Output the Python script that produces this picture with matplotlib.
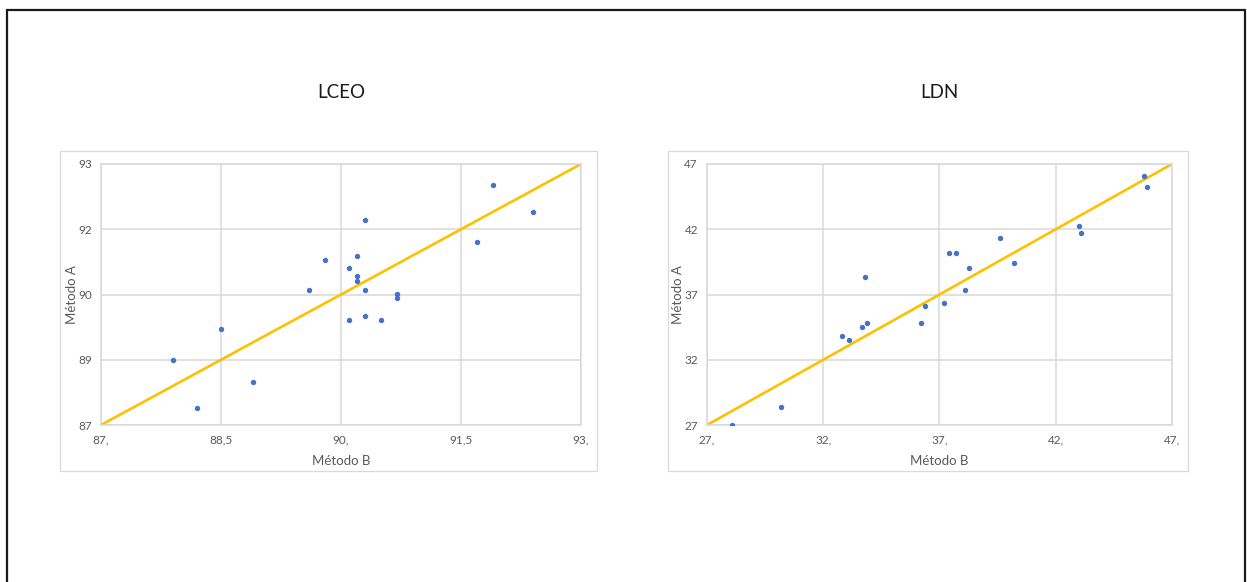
import matplotlib
matplotlib.use('Agg')
from matplotlib import pyplot as plt
from matplotlib.patches import Rectangle

# LCEO
lceo_b = [87.90, 88.20, 88.50, 88.90, 89.60, 89.80, 90.10, 90.10, 90.20, 90.20,
          90.20, 90.30, 90.30, 90.30, 90.50, 90.70, 90.70, 91.70, 91.90, 92.40]
lceo_a = [88.50, 87.40, 89.20, 88.00, 90.10, 90.80, 90.60, 89.41, 90.89, 90.42,
          90.30, 91.72, 90.10, 89.50, 89.41, 90.02, 89.91, 91.21, 92.52, 91.90]
lceo_xticks = [87, 88.5, 90, 91.5, 93]
lceo_xlabels = ['87,', '88,5', '90,', '91,5', '93,']
lceo_yticks = [87, 88.5, 90, 91.5, 93]
lceo_ylabels = ['87', '89', '90', '92', '93']

# LDN
ldn_b = [28.09, 30.18, 32.82, 33.10, 33.68, 33.80, 33.90, 36.22, 36.39, 37.18,
         37.41, 37.70, 38.10, 38.29, 39.60, 40.19, 43.00, 43.10, 45.80, 45.92]
ldn_a = [27.00, 28.41, 33.82, 33.51, 34.51, 38.33, 34.82, 34.82, 36.13, 36.38,
         40.21, 40.21, 37.33, 39.00, 41.31, 39.41, 42.23, 41.72, 46.10, 45.21]
ldn_xticks = [27, 32, 37, 42, 47]
ldn_xlabels = ['27,', '32,', '37,', '42,', '47,']
ldn_yticks = [27, 32, 37, 42, 47]
ldn_ylabels = ['27', '32', '37', '42', '47']

W, H = 1247, 582
plt.rcParams['font.family'] = ['Lato', 'DejaVu Sans']
fig = plt.figure(figsize=(W / 100, H / 100), dpi=100)

# outer black frame (bottom edge falls outside the picture)
fig.add_artist(Rectangle((7 / W, -0.1), (1245 - 7) / W, 1.1 - 10 / H,
                         transform=fig.transFigure, fill=False,
                         edgecolor='#1a1a1a', linewidth=1.6))

grey = '#d9d9d9'
txt = '#595959'


def chart(box, area, title, xs, ys, lim, xticks, xlabels, yticks, ylabels):
    bx0, by0, bx1, by1 = box
    fig.add_artist(Rectangle((bx0 / W, 1 - by1 / H), (bx1 - bx0) / W, (by1 - by0) / H,
                             transform=fig.transFigure, fill=False,
                             edgecolor=grey, linewidth=0.9))
    x0, y0, x1, y1 = area
    ax = fig.add_axes([x0 / W, 1 - y1 / H, (x1 - x0) / W, (y1 - y0) / H])
    ax.set_xlim(lim)
    ax.set_ylim(lim)
    ax.set_xticks(xticks)
    ax.set_xticklabels(xlabels)
    ax.set_yticks(yticks)
    ax.set_yticklabels(ylabels)
    ax.grid(True, color=grey, linewidth=1.1)
    ax.set_axisbelow(True)
    for s in ax.spines.values():
        s.set_color(grey)
        s.set_linewidth(1.1)
    ax.tick_params(length=0, labelsize=8.5, colors=txt)
    ax.tick_params(axis='x', pad=7)
    ax.tick_params(axis='y', pad=6.5)
    ax.plot(lim, lim, color='#FFC000', linewidth=1.9, zorder=2)
    ax.scatter(xs, ys, s=15, color='#4472C4', zorder=3, linewidths=0)
    ax.set_xlabel('Método B', fontsize=9.5, color=txt)
    ax.set_ylabel('Método A', fontsize=9.5, color=txt)
    ax.xaxis.set_label_coords(0.5, -(461 - y1) / (y1 - y0), transform=ax.transAxes)
    ax.yaxis.set_label_coords(-28.5 / (x1 - x0), 0.5, transform=ax.transAxes)
    ax.xaxis.label.set_va('center')
    ax.yaxis.label.set_va('center')
    fig.text((x0 + x1) / 2 / W, 1 - 93 / H, title, ha='center', va='center',
             fontsize=13.5, color='#1a1a1a')
    return ax


chart((60, 151, 597, 471), (101, 164, 581, 425), 'LCEO', lceo_b, lceo_a, (87, 93),
      lceo_xticks, lceo_xlabels, lceo_yticks, lceo_ylabels)
chart((668, 151, 1188, 471), (707, 164, 1172, 425), 'LDN', ldn_b, ldn_a, (27, 47),
      ldn_xticks, ldn_xlabels, ldn_yticks, ldn_ylabels)

plt.savefig('out.png', dpi=100)
plt.close()
